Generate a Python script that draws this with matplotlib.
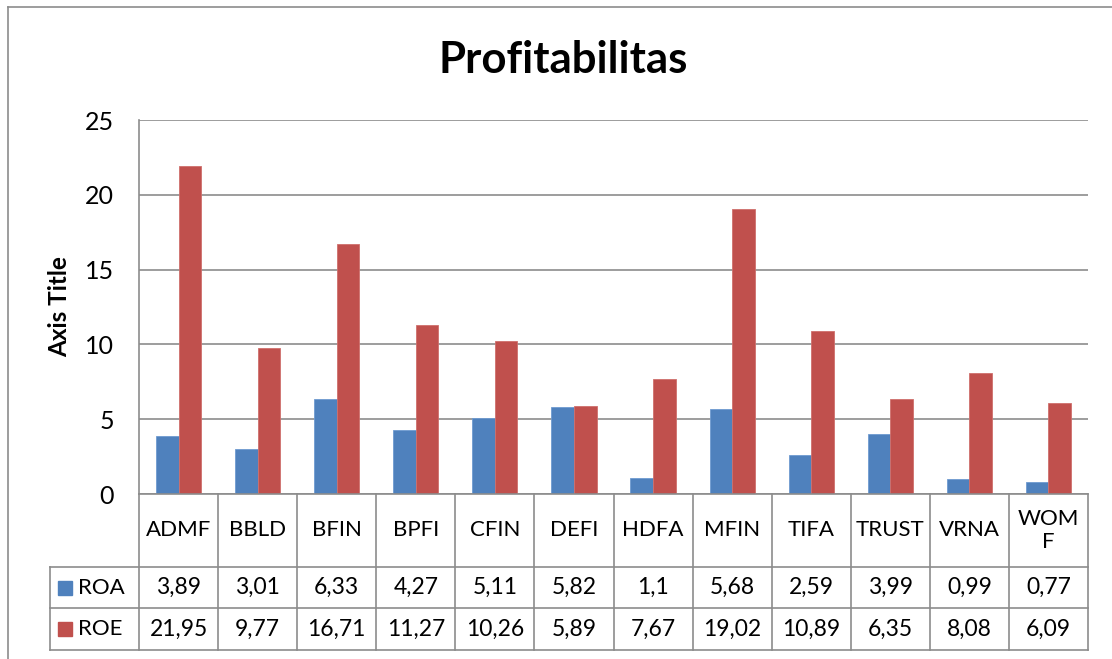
import matplotlib.pyplot as plt
from matplotlib.patches import Rectangle
from matplotlib.lines import Line2D

plt.rcParams['font.family'] = ['Lato', 'DejaVu Sans']

companies = ['ADMF', 'BBLD', 'BFIN', 'BPFI', 'CFIN', 'DEFI', 'HDFA',
             'MFIN', 'TIFA', 'TRUST', 'VRNA', 'WOM\nF']
roa = [3.89, 3.01, 6.33, 4.27, 5.11, 5.82, 1.1, 5.68, 2.59, 3.99, 0.99, 0.77]
roe = [21.95, 9.77, 16.71, 11.27, 10.26, 5.89, 7.67, 19.02, 10.89, 6.35, 8.08, 6.09]
series_names = ['ROA', 'ROE']
yticks = [0, 5, 10, 15, 20, 25]

BLUE = '#4F81BD'
RED = '#C0504D'
GRID = '#8c8c8c'

W, H = 1112, 659
fig = plt.figure(figsize=(W / 100, H / 100), dpi=100)


def fx(px):
    return px / W


def fy(py):
    return 1 - py / H


# outer chart border (right/bottom run off the picture)
fig.add_artist(Line2D([fx(8), fx(8)], [fy(7), 0], color=GRID, lw=1.2))
fig.add_artist(Line2D([fx(8), 1], [fy(7), fy(7)], color=GRID, lw=1.2))

left, right, top, zero = 139, 1088, 120, 494
ax = fig.add_axes([fx(left), fy(zero), fx(right - left), fy(top) - fy(zero)])
n = len(companies)
x = list(range(n))
bw = 1 / 3.5
ax.bar([i - bw / 2 for i in x], roa, bw, color=BLUE, edgecolor='#6f9bd1', lw=0.6, zorder=3)
ax.bar([i + bw / 2 for i in x], roe, bw, color=RED, edgecolor='#cf6f6c', lw=0.6, zorder=3)
ax.set_xlim(-0.5, n - 0.5)
ax.set_ylim(0, 25)
ax.set_yticks(yticks)
ax.set_yticklabels([str(t) for t in yticks], fontsize=18)
ax.tick_params(axis='y', length=0, pad=18)
ax.set_xticks([])
ax.yaxis.grid(True, color=GRID, lw=1.2)
ax.set_axisbelow(True)
for s in ['top', 'right', 'bottom']:
    ax.spines[s].set_visible(False)
ax.spines['left'].set_color(GRID)
ax.spines['left'].set_linewidth(1.2)
ax.set_ylabel('Axis Title', fontsize=17.5, fontweight='bold', labelpad=10)
ax.patch.set_alpha(0)

fig.text(fx(563), fy(60), 'Profitabilitas', fontsize=31.5, fontweight='bold',
         ha='center', va='center')

# data table below the plot
tleft, tbot = 50, 650
tab = fig.add_axes([fx(tleft), fy(tbot), fx(right - tleft), fy(zero) - fy(tbot)])
unit = (right - left) / n
x0 = -0.5 - (left - tleft) / unit
tab.set_xlim(x0, n - 0.5)
tab.set_ylim(tbot - zero, 0)
tab.axis('off')
r1, r2, r3 = 567 - zero, 608 - zero, tbot - zero
lk = dict(color=GRID, lw=1.2, clip_on=False)
tab.plot([-0.5, n - 0.5], [0, 0], **lk)
for yy in (r1, r2, r3):
    tab.plot([x0, n - 0.5], [yy, yy], **lk)
tab.plot([x0, x0], [r1, r3], **lk)
for k in range(n + 1):
    tab.plot([k - 0.5, k - 0.5], [0, r3], **lk)

for i, name in enumerate(companies):
    tab.text(i, r1 / 2, name, ha='center', va='center', fontsize=16, linespacing=1.2)
    tab.text(i, (r1 + r2) / 2, f'{roa[i]:g}'.replace('.', ','), ha='center', va='center', fontsize=16.5)
    tab.text(i, (r2 + r3) / 2, f'{roe[i]:g}'.replace('.', ','), ha='center', va='center', fontsize=16.5)

for (ya, yb), nm, col in zip([(r1, r2), (r2, r3)], series_names, [BLUE, RED]):
    ym = (ya + yb) / 2
    kx = x0 + 8 / unit
    tab.add_patch(Rectangle((kx, ym - 7), 14 / unit, 14, color=col, clip_on=False))
    tab.text(kx + 20 / unit, ym, nm, ha='left', va='center', fontsize=16)

fig.savefig('out.png', dpi=100)
